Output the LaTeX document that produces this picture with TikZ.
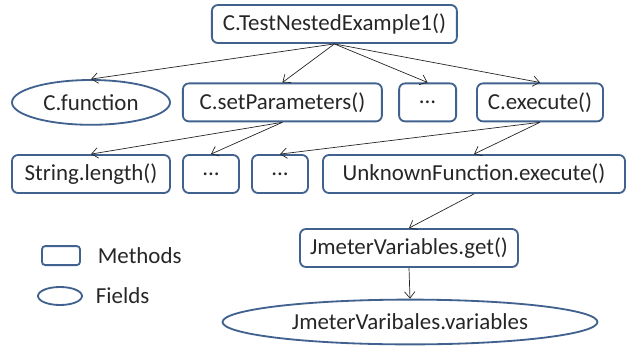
\documentclass[tikz,border=0pt]{standalone}
\usepackage{fontspec}
\setmainfont{Carlito}
\usetikzlibrary{arrows.meta,shapes.geometric,positioning}
\definecolor{edgeblue}{HTML}{41628E}
\tikzset{%
  >={Straight Barb[length=1.6mm,width=2.6mm]},
  % Specifications for style of nodes:
            base/.style = {draw=edgeblue, line width=1.3pt, text=black!85,
                           inner sep=0pt, font=\fontsize{16.3}{19}\selectfont},
          method/.style = {base, rectangle, rounded corners=0.15cm,
                           minimum height=0.95cm},
           field/.style = {base, ellipse, minimum height=1.12cm},
       legendkey/.style = {draw=edgeblue, line width=1.3pt},
       calls/.style = {->, line width=0.5pt, black!85},
}

\begin{document}
\begin{tikzpicture}[node distance=1.85cm]
  \useasboundingbox (0,0) rectangle (15.725,-8.625);
  % Specification of nodes (position, etc.)

  \node (nested)     [method, minimum width=6.125cm] at (8.36,-0.6) {C.TestNestedExample1()};
  \node (function)   [field, minimum width=3.95cm, below of=nested, xshift=-6.085cm, yshift=-0.11cm] {C.function};
  \node (setparams)  [method, minimum width=4.975cm, below of=nested, xshift=-1.3cm, yshift=-0.11cm] {C.setParameters()};
  \node (dotsA)      [method, minimum width=1.425cm, below of=nested, xshift=2.33cm, yshift=-0.11cm] {...};
  \node (execute)    [method, minimum width=3.15cm, below of=nested, xshift=5.14cm, yshift=-0.11cm] {C.execute()};

  \node (length)     [method, minimum width=3.95cm, below of=setparams, xshift=-4.785cm, yshift=0.06cm] {String.length()};
  \node (dotsB)      [method, minimum width=1.4cm, below of=setparams, xshift=-1.785cm, yshift=0.06cm] {...};
  \node (dotsC)      [method, minimum width=1.4cm, below of=execute, xshift=-6.5cm, yshift=0.06cm] {...};
  \node (unknown)    [method, minimum width=7.55cm, below of=execute, xshift=-1.65cm, yshift=0.06cm] {UnknownFunction.execute()};

  \node (get)        [method, minimum width=5.45cm, below of=unknown, xshift=-1.625cm] {JmeterVariables.get()};
  \node (variables)  [field, minimum width=9.375cm, below of=get, xshift=0.025cm] {JmeterVaribales.variables};

  % legend
  \node (methodkey)  [legendkey, rectangle, rounded corners=0.08cm, minimum width=0.95cm, minimum height=0.475cm,
                      below of=length, xshift=-0.75cm, yshift=-0.19cm] {};
  \node (fieldkey)   [legendkey, ellipse, inner sep=0pt, minimum width=1.1cm, minimum height=0.45cm,
                      below of=methodkey, xshift=-0.025cm, yshift=0.84cm] {};
  \node (methodlabel) [right=0.3cm of methodkey, font=\fontsize{16.3}{19}\selectfont, text=black!85] {Methods};
  \node (fieldlabel)  [right=0.2cm of fieldkey, font=\fontsize{16.3}{19}\selectfont, text=black!85] {Fields};

  \draw[calls]       (nested.south) -- (function.north);
  \draw[calls]       (nested.south) -- (setparams.north);
  \draw[calls]       (nested.south) -- (dotsA.north);
  \draw[calls]       (nested.south) -- (execute.north);
  \draw[calls]       (setparams.south) -- (length.north);
  \draw[calls]       (setparams.south) -- (dotsB.north);
  \draw[calls]       (execute.south) -- (dotsC.north);
  \draw[calls]       (execute.south) -- (unknown.north);
  \draw[calls]       (unknown.south) -- (get.north);
  \draw[calls]       (get.south) -- (variables.north);

\end{tikzpicture}
\end{document}
